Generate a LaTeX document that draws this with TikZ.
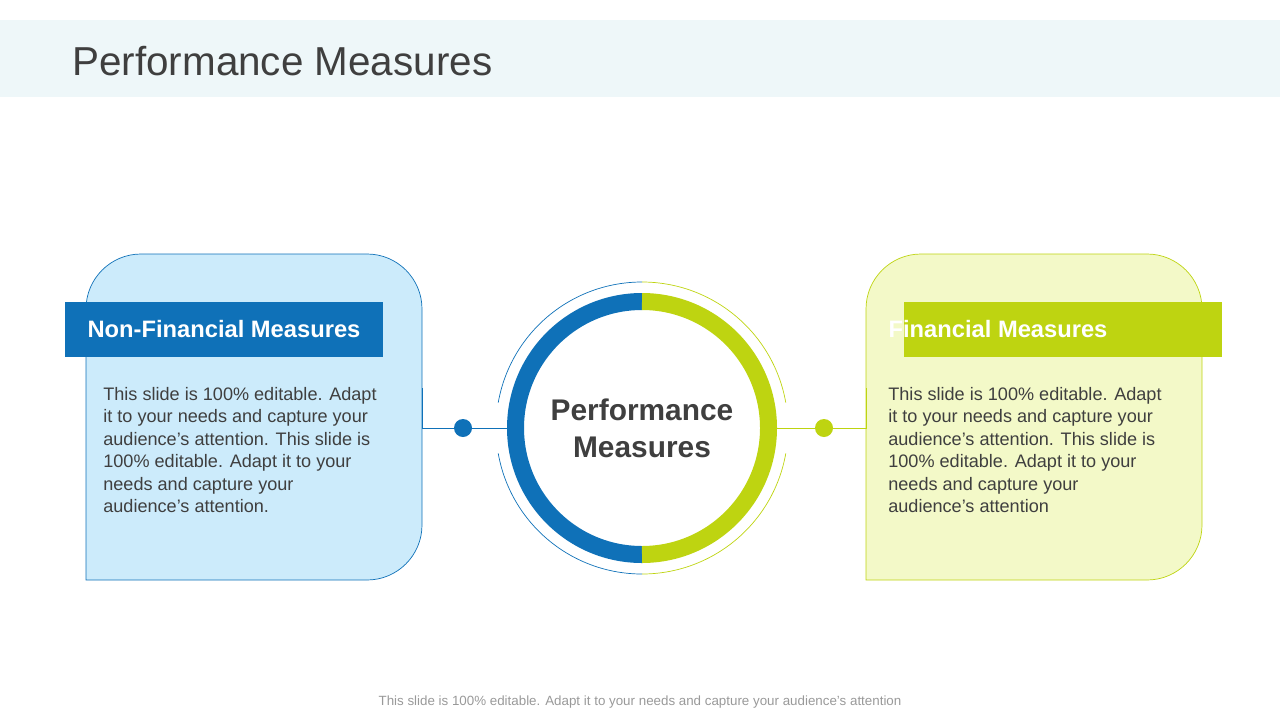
\documentclass[tikz,border=0pt]{standalone}
\usepackage{fontspec}
\setmainfont{Liberation Sans}
\definecolor{bandcol}{HTML}{EEF7F9}
\definecolor{bluecol}{HTML}{0F71B8}
\definecolor{bluefill}{HTML}{CCEBFB}
\definecolor{greencol}{HTML}{BED411}
\definecolor{greenfill}{HTML}{F3F9C8}
\definecolor{textcol}{HTML}{3F3F3F}
\tikzset{
  labelbar/.style={minimum width=318*0.02cm, minimum height=55*0.02cm, inner sep=0pt, font=\fontsize{13.5}{16}\selectfont\bfseries, text=white},
  bodytext/.style={anchor=north west, align=left, inner sep=0pt, text=textcol, font=\fontsize{10.3}{12.8}\selectfont},
  dotnode/.style={circle, inner sep=0pt, minimum size=18*0.02cm}
}
\begin{document}
\begin{tikzpicture}[x=0.02cm,y=-0.02cm]
\useasboundingbox (0,0) rectangle (1280,720);
% title band
\fill[bandcol] (0,20) rectangle (1280,97);
\node[anchor=west, inner sep=0pt, text=textcol, font=\fontsize{23}{26}\selectfont] (title) at (72,61) {Performance Measures};

% cards
\draw[bluecol, fill=bluefill, rounded corners=55*0.02cm] (86,580) -- (86,254) -- (422,254) -- (422,580) [sharp corners] -- cycle;
\draw[greencol, fill=greenfill, rounded corners=55*0.02cm] (866,580) -- (866,254) -- (1202,254) -- (1202,580) [sharp corners] -- cycle;
\node[labelbar, fill=bluecol] (nfbar) at (224,329.5) {Non-Financial Measures};
\node[labelbar, fill=greencol] (fbar) at (1063,329.5) {\hspace*{-2.6cm}Financial Measures};
\node[bodytext] (nftext) at (103,387) {This slide is 100\% editable. Adapt\\it to your needs and capture your\\audience's attention. This slide is\\100\% editable. Adapt it to your\\needs and capture your\\audience's attention.};
\node[bodytext] (ftext) at (888,387) {This slide is 100\% editable. Adapt\\it to your needs and capture your\\audience's attention. This slide is\\100\% editable. Adapt it to your\\needs and capture your\\audience's attention};

% ring
\coordinate (c) at (642,428);
\draw[bluecol, line width=17*0.02cm] (642,301.5) arc[start angle=-90, end angle=-270, radius=126.5];
\draw[greencol, line width=17*0.02cm] (642,301.5) arc[start angle=-90, end angle=90, radius=126.5];
\draw[bluecol, thin] (c) ++(-90:146) arc[start angle=-90, end angle=-170, radius=146];
\draw[bluecol, thin] (c) ++(-190:146) arc[start angle=-190, end angle=-270, radius=146];
\draw[greencol, thin] (c) ++(-90:146) arc[start angle=-90, end angle=-10, radius=146];
\draw[greencol, thin] (c) ++(10:146) arc[start angle=10, end angle=90, radius=146];
\node[align=center, text=textcol, font=\fontsize{17}{21}\selectfont\bfseries] (centre) at (c) {Performance\\Measures};

% connectors
\coordinate (lt) at (422,388);
\coordinate (lc) at (422,428);
\coordinate (rt) at (866,388);
\coordinate (rc) at (866,428);
\coordinate (ringl) at (507,428);
\coordinate (ringr) at (777,428);
\draw[bluecol] (lt) -- (lc) -- (ringl);
\draw[greencol] (rt) -- (rc) -- (ringr);
\node[dotnode, fill=bluecol] (ldot) at (463,428) {};
\node[dotnode, fill=greencol] (rdot) at (824,428) {};

% footer
\node[text=gray!80, font=\fontsize{7.6}{9}\selectfont] (footer) at (640,702) {This slide is 100\% editable. Adapt it to your needs and capture your audience's attention};
\end{tikzpicture}
\end{document}
